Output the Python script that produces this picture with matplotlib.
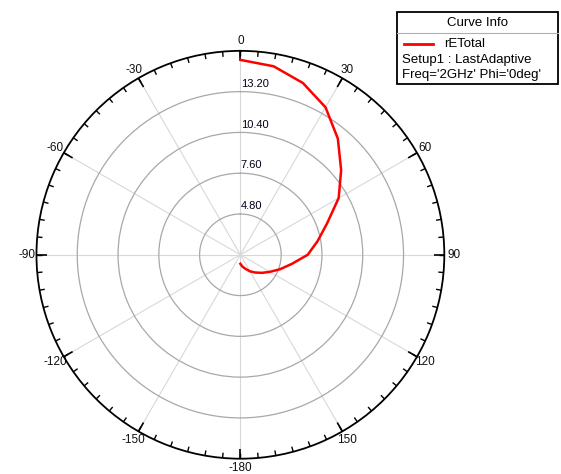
import numpy as np
import matplotlib
matplotlib.use('Agg')
from matplotlib import pyplot as plt

plt.rcParams['font.family'] = ['Liberation Sans', 'DejaVu Sans']

# rETotal, theta in degrees (phi = 0 cut)
theta_deg = [0, 10, 20, 30, 40, 50, 60, 70, 80, 90,
             100, 110, 120, 130, 140, 150, 160, 170, 180]
re_total = [15.38, 15.14, 14.55, 13.69, 12.41, 11.03, 9.79, 8.34, 7.38, 6.62,
            5.59, 4.90, 4.34, 3.93, 3.59, 3.31, 3.03, 2.83, 2.62]

r_min, r_max = 2.0, 16.0
ring_values = [4.80, 7.60, 10.40, 13.20]
ring_labels = ['4.80', '7.60', '10.40', '13.20']
angle_ticks = [0, 30, 60, 90, 120, 150, 180, 210, 240, 270, 300, 330]
angle_labels = ['0', '30', '60', '90', '120', '150', '-180',
                '-150', '-120', '-90', '-60', '-30']

fig = plt.figure(figsize=(5.61, 4.74), dpi=100)
ax = fig.add_axes([0.065, 0.032, 0.727, 0.861], projection='polar')
ax.set_theta_zero_location('N')
ax.set_theta_direction(-1)
ax.set_ylim(r_min, r_max)

ax.set_xticks(np.radians(angle_ticks))
ax.set_xticklabels(angle_labels, fontsize=8.5, color='#101010')
ax.tick_params(axis='x', which='major', length=0, pad=0)
ax.xaxis.grid(True, color='#d8d8d8', lw=0.8)

ax.set_yticks(ring_values)
ax.set_yticklabels([])
ax.yaxis.grid(True, color='#a8a8a8', lw=0.9)
for v, lab in zip(ring_values, ring_labels):
    ax.text(np.radians(0.2), v + 0.2, lab, fontsize=8, ha='left', va='bottom',
            color='#000018')

ax.spines['polar'].set_color('black')
ax.spines['polar'].set_linewidth(1.3)

# tick marks on the rim, pointing inward
minor_ang = np.radians(np.arange(0, 360, 5))
major_ang = np.radians(angle_ticks)
ax.vlines(minor_ang, r_max - 0.36, r_max, color='black', lw=1)
ax.vlines(major_ang, r_max - 0.7, r_max, color='black', lw=1.2)

ax.plot(np.radians(theta_deg), re_total, color='#ff0000', lw=1.8)

# legend box (Curve Info)
bx, by, bw, bh = 0.708, 0.823, 0.287, 0.152
fig.patches.append(plt.Rectangle((bx, by), bw, bh, transform=fig.transFigure,
                                 fill=False, ec='black', lw=1.3))
fig.lines.append(plt.Line2D([bx, bx + bw], [by + bh - 0.044] * 2,
                            transform=fig.transFigure, color='#b0b0b0', lw=0.8))
fig.text(bx + bw / 2, by + bh - 0.024, 'Curve Info', fontsize=9.5,
         ha='center', va='center')
fig.lines.append(plt.Line2D([bx + 0.012, bx + 0.064], [0.908, 0.908],
                            transform=fig.transFigure, color='#ff0000', lw=2))
fig.text(bx + 0.084, 0.908, 'rETotal', fontsize=9.5, ha='left', va='center')
fig.text(bx + 0.008, 0.874, 'Setup1 : LastAdaptive', fontsize=9.5,
         ha='left', va='center')
fig.text(bx + 0.008, 0.842, "Freq='2GHz' Phi='0deg'", fontsize=9.5,
         ha='left', va='center')

fig.savefig('out.png', dpi=100)
